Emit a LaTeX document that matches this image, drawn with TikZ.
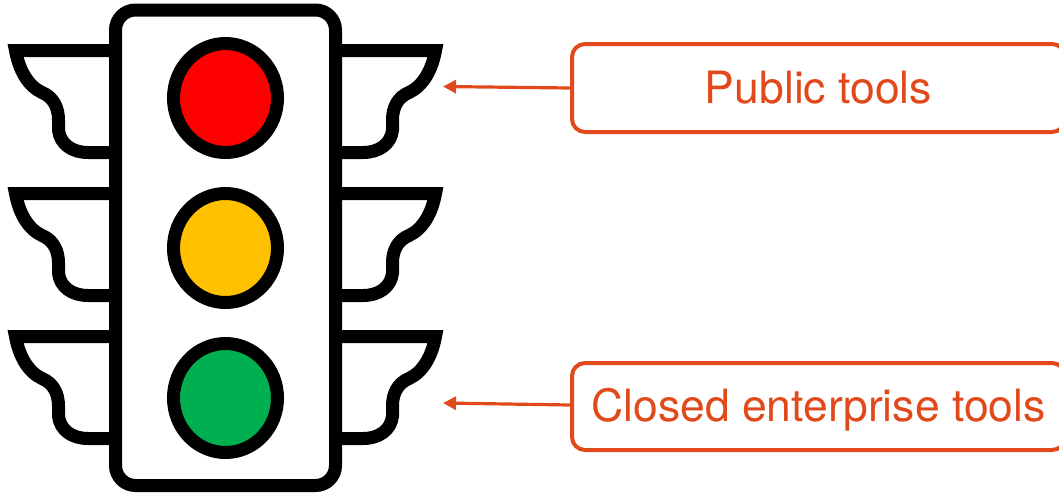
\documentclass[tikz,border=0pt]{standalone}
\usepackage{fontspec}
\setmainfont{TeX Gyre Heros}
\usetikzlibrary{arrows.meta}
\definecolor{callout}{HTML}{E2491A}
\tikzset{
  housing/.style={draw=black,line width=13pt,fill=white,rounded corners=20pt},
  wing/.style={draw=black,line width=13pt,miter limit=20,line join=miter},
  lamp/.style={draw=black,line width=13pt},
  labelbox/.style={draw=callout,line width=4pt,rounded corners=13pt,fill=white},
  labeltext/.style={text=callout,font=\fontsize{44.5}{44.5}\selectfont,anchor=base},
  pointer/.style={draw=callout,line width=3.2pt,-{Triangle[length=13pt,width=13pt]},shorten >=0pt},
}
\newcommand{\wingL}[1]{%
  \draw[wing,shift={(0,#1)}] (115,50.5) -- (15.5,50.5)
    .. controls (19,70) and (28,86) .. (42,92.5)
    .. controls (53,97) and (58.5,107) .. (58.5,120)
    .. controls (58.5,125) and (58.5,127) .. (58.5,130)
    .. controls (60,144) and (72,152.5) .. (88,152.5) -- (115,152.5);}
\newcommand{\wingR}[1]{%
  \draw[wing,shift={(0,#1)}] (336,50.5) -- (435.5,50.5)
    .. controls (432,70) and (423,86) .. (409,92.5)
    .. controls (398,97) and (392.5,107) .. (392.5,120)
    .. controls (392.5,125) and (392.5,127) .. (392.5,130)
    .. controls (391,144) and (379,152.5) .. (363,152.5) -- (336,152.5);}
\begin{document}
\begin{tikzpicture}[x=1pt,y=-1pt]
\useasboundingbox (0,0) rectangle (1059,493);
\foreach \d in {0,143,286}{\wingL{\d}\wingR{\d}}
\draw[housing] (115.5,10) rectangle (335.5,485.5);
\draw[lamp,fill={rgb,255:red,255;green,0;blue,0}] (225.5,98) ellipse [x radius=52,y radius=54.5];
\draw[lamp,fill={rgb,255:red,255;green,192;blue,0}] (225.5,248) ellipse [x radius=52,y radius=54.5];
\draw[lamp,fill={rgb,255:red,0;green,176;blue,80}] (225.5,398) ellipse [x radius=52,y radius=54.5];
\coordinate (pubTarget) at (443,86.5);
\coordinate (closedTarget) at (443,403);
\node[labelbox,minimum width=493pt,minimum height=88pt,anchor=west,inner sep=0pt] (pubBox) at (570,88) {};
\node[labelbox,minimum width=493pt,minimum height=87pt,anchor=west,inner sep=0pt] (closedBox) at (570,406.5) {};
\node[labeltext,inner sep=0pt] (pubText) at (818.5,103) {Public tools};
\node[labeltext,inner sep=0pt] (closedText) at (818.5,421) {Closed enterprise tools};
\draw[pointer] (pubBox.west) -- (pubTarget);
\draw[pointer] (closedBox.west |- 0,405) -- (closedTarget);
\end{tikzpicture}
\end{document}
